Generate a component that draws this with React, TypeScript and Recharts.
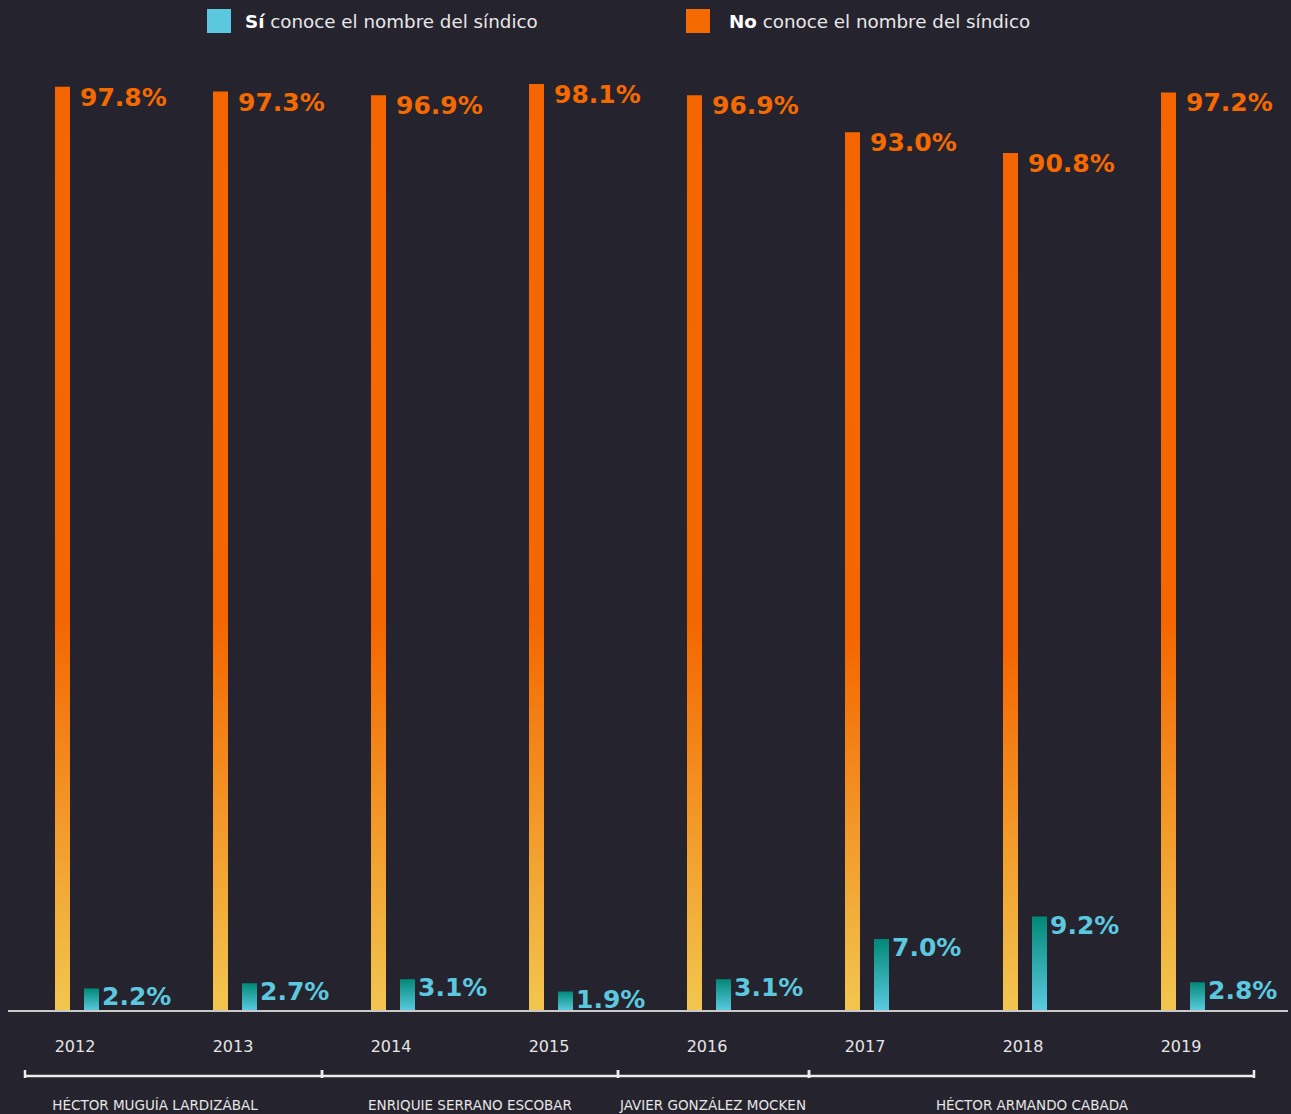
import { BarChart, Bar, XAxis, YAxis, LabelList } from 'recharts'

const years = ['2012', '2013', '2014', '2015', '2016', '2017', '2018', '2019']
const siConoce = [2.2, 2.7, 3.1, 1.9, 3.1, 7.0, 9.2, 2.8]
const noConoce = [97.8, 97.3, 96.9, 98.1, 96.9, 93.0, 90.8, 97.2]

const sindicos = [
  'HÉCTOR MUGUÍA LARDIZÁBAL',
  'ENRIQUIE SERRANO ESCOBAR',
  'JAVIER GONZÁLEZ MOCKEN',
  'HÉCTOR ARMANDO CABADA',
]

const data = years.map((year, i) => ({ year, si: siConoce[i], no: noConoce[i] }))

// bracket layout under the years (annotation only)
const brackets = [
  { x1: 25, x2: 322, label: 155 },
  { x1: 322, x2: 618, label: 470 },
  { x1: 618, x2: 809, label: 713 },
  { x1: 809, x2: 1254, label: 1032 },
]

const BG = '#25232d'
const ORANGE = '#f56a00'
const CYAN = '#5cc8df'
const FONT = '"DejaVu Sans", sans-serif'

const valueLabel = (color: string, gap: number, dy: number) => (props: any) => {
  const { x, y, width, value } = props
  return (
    <text
      x={Number(x) + Number(width) + gap}
      y={Number(y) + dy}
      fill={color}
      fontSize={25}
      fontWeight={700}
      fontFamily={FONT}
    >
      {Number(value).toFixed(1)}%
    </text>
  )
}

const YearTick = (props: any) => {
  const { x, y, payload } = props
  return (
    <text x={x - 2} y={y + 28} textAnchor="middle" dominantBaseline="middle" fill="#e6e6e6" fontSize={16} fontFamily={FONT}>
      {payload.value}
    </text>
  )
}

export default function App() {
  return (
    <div style={{ position: 'relative', width: 1291, height: 1114, background: BG, overflow: 'hidden' }}>
      <style>{`html,body{margin:0;padding:0;background:${BG};}`}</style>

      <div style={{ position: 'absolute', top: 0, left: 0, width: 1291, height: 44, fontFamily: FONT, fontSize: 18.3, color: '#e8e8e8' }}>
        <div style={{ position: 'absolute', left: 207, top: 9, width: 24, height: 24, background: CYAN }} />
        <div style={{ position: 'absolute', left: 245, top: 10, lineHeight: '24px' }}>
          <b style={{ color: '#fff' }}>Sí</b> conoce el nombre del síndico
        </div>
        <div style={{ position: 'absolute', left: 686, top: 9, width: 24, height: 24, background: ORANGE }} />
        <div style={{ position: 'absolute', left: 729, top: 10, lineHeight: '24px' }}>
          <b style={{ color: '#fff' }}>No</b> conoce el nombre del síndico
        </div>
      </div>

      <BarChart
        width={1291}
        height={1114}
        data={data}
        margin={{ top: 66, right: 29, left: -2, bottom: 43 }}
        barGap={14}
        barSize={15}
      >
        <defs>
          <linearGradient id="gradNo" x1="0" y1="0" x2="0" y2="1">
            <stop offset="0%" stopColor="#f56600" />
            <stop offset="58%" stopColor="#f46700" />
            <stop offset="80%" stopColor="#f29a2a" />
            <stop offset="100%" stopColor="#f2c650" />
          </linearGradient>
          <linearGradient id="gradSi" x1="0" y1="0" x2="0" y2="1">
            <stop offset="0%" stopColor="#018877" />
            <stop offset="100%" stopColor="#5ccbe2" />
          </linearGradient>
        </defs>
        <XAxis dataKey="year" height={60} axisLine={false} tickLine={false} tick={<YearTick />} interval={0} />
        <YAxis yAxisId="no" hide domain={[0, 100]} />
        <YAxis yAxisId="si" hide domain={[0, 92]} />
        <Bar yAxisId="no" dataKey="no" fill="url(#gradNo)" isAnimationActive={false}>
          <LabelList dataKey="no" content={valueLabel(ORANGE, 10, 19)} />
        </Bar>
        <Bar yAxisId="si" dataKey="si" fill="url(#gradSi)" isAnimationActive={false}>
          <LabelList dataKey="si" content={valueLabel(CYAN, 3, 17)} />
        </Bar>
      </BarChart>

      <svg width={1291} height={1114} style={{ position: 'absolute', top: 0, left: 0, pointerEvents: 'none' }}>
        <line x1={8} x2={1288} y1={1011} y2={1011} stroke="#c9c9c9" strokeWidth={2} />
        {brackets.map((b, i) => (
          <g key={i}>
            <line x1={b.x1} x2={b.x2} y1={1076} y2={1076} stroke="#ececec" strokeWidth={2.5} />
            <line x1={b.x1} x2={b.x1} y1={1070} y2={1078} stroke="#ececec" strokeWidth={2.5} />
            <line x1={b.x2} x2={b.x2} y1={1070} y2={1078} stroke="#ececec" strokeWidth={2.5} />
            <text x={b.label} y={1110} textAnchor="middle" fill="#e6e6e6" fontSize={13.5} fontFamily={FONT}>
              {sindicos[i]}
            </text>
          </g>
        ))}
      </svg>
    </div>
  )
}
